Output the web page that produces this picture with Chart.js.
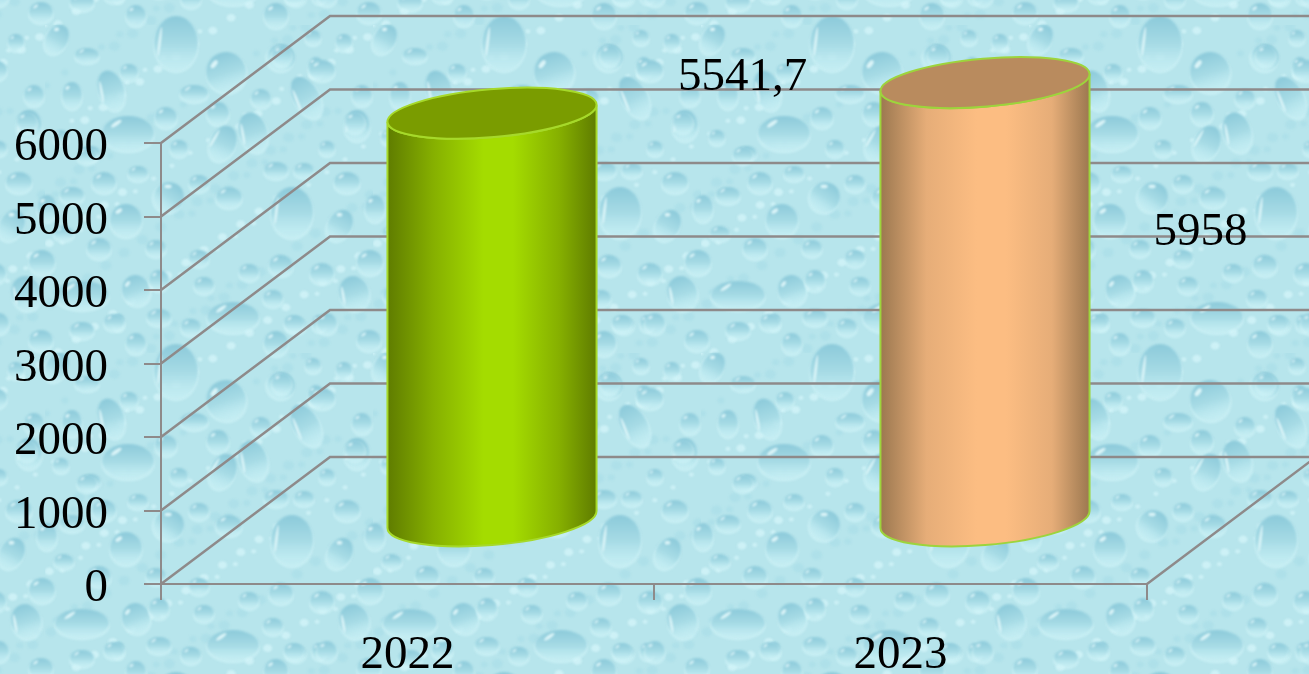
<!DOCTYPE html>
<html>
<head>
<meta charset="utf-8">
<style>
html, body { margin: 0; padding: 0; overflow: hidden; background: #bce9f0; }
canvas { display: block; }
</style>
<script src="https://cdn.jsdelivr.net/npm/chart.js@4"></script>
</head>
<body>
<canvas id="barChart" width="1309" height="674"></canvas>
<script>
const categories = ['2022', '2023'];
const values = [5541.7, 5958];
const valueLabels = ['5541,7', '5958'];
const yTicks = [0, 1000, 2000, 3000, 4000, 5000, 6000];

const FONT = '"Liberation Serif", serif';
const GRID = '#8e8a8a';
const DEPTH_X = 169, DEPTH_Y = 127;

// cylinder look
const barColors = ['#a4dc00', '#fcbd82'];
const midColors = ['#86b000', '#e6ad78'];
const edgeColors = ['#5f7c00', '#9c7850'];
const topColors = ['#7a9c00', '#b98b5e'];
const rimColors = ['#a6d92a', '#9dd43c'];
// where the two data labels sit relative to the top of the front bar
const labelShift = [[335, -99], [300, 87]];

// water drop tile, [x, y, rx, ry, tilt]
const drops = [
  [131,18,22,27,0],[181,47,20,20,-.3],[236,32,14,13,.5],[261,72,13,22,-.5],[84,47,9,8,0],[121,92,11,10,0],
  [149,68,14,8,0],[173,88,11,11,0],[216,73,10,9,0],[83,108,26,17,0],[208,107,14,20,-.3],[178,118,13,18,.4],
  [134,123,9,8,0],[93,148,10,7,0],[231,145,12,8,0],[259,145,10,7,0],[154,158,10,8,0],[124,172,15,15,.6],
  [184,172,13,10,0],[81,195,16,16,0],[247,187,21,25,0],[111,223,10,8,0],[154,233,10,8,0],[236,240,12,10,0],
  [204,247,10,8,0],[91,265,14,15,-.3],[114,255,10,10,0],[159,260,10,8,0],[228,273,10,8,0],[188,292,26,15,0],
  [114,292,12,8,0],[146,302,10,8,0],[251,300,10,8,0],[231,318,12,12,0],[91,318,10,10,0],[74,297,6,8,0],
  [274,298,7,8,0],[271,42,8,10,0],[268,12,8,7,0],[312,100,13,15,0],[282,123,8,7,0],[46,128,10,7,0],
  [302,157,13,10,0],[27,170,12,8,0],[59,157,12,10,0],[2,183,10,13,0],[295,200,12,16,.5],[19,208,10,7,0],
  [54,223,12,10,0],[325,237,13,12,0],[277,248,12,10,0],[309,268,15,17,-.3],[37,270,27,14,0],[249,298,10,8,0],
  [282,298,10,10,0],[324,315,12,10,0],[37,305,12,8,0],[69,297,10,8,0],[12,14,11,15,.5],[299,17,8,8,0],
  [42,30,12,7,0],[237,30,10,10,0],[277,45,13,10,0],[317,70,10,10,0],[27,70,10,13,0],[66,65,13,20,-.3],
  [310,97,10,10,0],[42,130,10,8,0],[16,112,8,7,0]
];

function drawDrop(g, d) {
  const [x, y, rx, ry, tilt] = d;
  g.save();
  g.translate(x, y);
  g.rotate(tilt);
  // faint pale rim under the drop
  g.fillStyle = 'rgba(212,245,249,0.55)';
  g.beginPath();
  g.ellipse(0, 2.5, rx + 1, ry + 1, 0, 0, Math.PI * 2);
  g.fill();
  const grad = g.createLinearGradient(0, -ry, 0, ry);
  grad.addColorStop(0, '#8ccada');
  grad.addColorStop(.55, '#a8dce6');
  grad.addColorStop(1, 'rgba(190,235,242,0.3)');
  g.fillStyle = grad;
  g.beginPath();
  g.ellipse(0, 0, rx, ry, 0, 0, Math.PI * 2);
  g.fill();
  // highlight
  g.fillStyle = 'rgba(235,252,254,0.8)';
  g.beginPath();
  if (ry > rx * 1.1 && rx > 12) {
    g.ellipse(-rx * .74, -ry * .05, 1.3, ry * .55, .12, 0, Math.PI * 2);
  } else {
    g.ellipse(-rx * .45, -ry * .55, Math.max(1.3, rx * .24), Math.max(.9, ry * .12), -.6, 0, Math.PI * 2);
  }
  g.fill();
  g.restore();
}

function makeTile() {
  const size = 328;
  const tile = document.createElement('canvas');
  tile.width = size;
  tile.height = size;
  const g = tile.getContext('2d');
  g.fillStyle = '#b7e5ec';
  g.fillRect(0, 0, size, size);
  g.filter = 'blur(0.9px)';
  // small droplets in between, golden ratio steps so they spread evenly
  for (let i = 0; i < 170; i++) {
    const x = (i * 0.618034 % 1) * size;
    const y = (i * 0.754878 % 1) * size;
    const r = 2.5 + (i % 4);
    g.fillStyle = i % 2 ? '#aee0e9' : '#cdf1f6';
    g.beginPath();
    g.ellipse(x, y, r, r * .85, 0, 0, Math.PI * 2);
    g.fill();
  }
  for (const d of drops) {
    for (const ox of [-size, 0, size]) {
      for (const oy of [-size, 0, size]) {
        drawDrop(g, [d[0] + ox, d[1] + oy, d[2], d[3], d[4]]);
      }
    }
  }
  return tile;
}

const background = {
  id: 'background',
  beforeDraw(chart) {
    const ctx = chart.ctx;
    const pattern = ctx.createPattern(makeTile(), 'repeat');
    pattern.setTransform(new DOMMatrix().translate(45, 25));
    ctx.save();
    ctx.fillStyle = pattern;
    ctx.fillRect(0, 0, chart.width, chart.height);
    ctx.restore();
  }
};

// side wall, back wall and floor lines of the 3D box
const box = {
  id: 'box',
  beforeDatasetsDraw(chart) {
    const { ctx, scales: { y }, chartArea: { left, right, bottom } } = chart;
    ctx.save();
    ctx.strokeStyle = GRID;
    ctx.lineWidth = 2.5;
    ctx.beginPath();
    for (const t of yTicks) {
      const py = y.getPixelForValue(t);
      ctx.moveTo(left, py);
      ctx.lineTo(left + DEPTH_X, py - DEPTH_Y);
      ctx.lineTo(chart.width, py - DEPTH_Y);
    }
    ctx.moveTo(right, bottom);
    ctx.lineTo(right + DEPTH_X, bottom - DEPTH_Y);
    ctx.stroke();
    ctx.restore();
  }
};

const cylinders = {
  id: 'cylinders',
  beforeDatasetDraw(chart, args) {
    const ctx = chart.ctx;
    const tilt = -4.9 * Math.PI / 180;
    args.meta.data.forEach((bar, i) => {
      const half = bar.width / 2;
      const a = half + .4, b = 24;
      const cx = bar.x + DEPTH_X / 2, top = bar.y - DEPTH_Y / 2, base = bar.base - DEPTH_Y / 2;
      // angle on the ellipse of its outermost right point
      const t0 = Math.atan(-(b / a) * Math.tan(tilt));

      const side = ctx.createLinearGradient(cx - half, 0, cx + half, 0);
      side.addColorStop(0, edgeColors[i]);
      side.addColorStop(.22, midColors[i]);
      side.addColorStop(.46, bar.options.backgroundColor);
      side.addColorStop(.6, bar.options.backgroundColor);
      side.addColorStop(.82, midColors[i]);
      side.addColorStop(1, edgeColors[i]);

      ctx.save();
      ctx.beginPath();
      ctx.ellipse(cx, base, a, b + 1.5, tilt, t0, t0 + Math.PI, false);
      ctx.ellipse(cx, top, a, b, tilt, t0 + Math.PI, t0, true);
      ctx.closePath();
      ctx.fillStyle = side;
      ctx.fill();
      ctx.strokeStyle = rimColors[i];
      ctx.lineWidth = 2;
      ctx.stroke();

      ctx.beginPath();
      ctx.ellipse(cx, top, a, b, tilt, 0, Math.PI * 2);
      ctx.fillStyle = topColors[i];
      ctx.fill();
      ctx.stroke();
      ctx.restore();
    });
    return false;
  },
  afterDatasetsDraw(chart) {
    const ctx = chart.ctx;
    ctx.save();
    ctx.font = '47px ' + FONT;
    ctx.fillStyle = '#000';
    ctx.textAlign = 'center';
    ctx.textBaseline = 'middle';
    chart.getDatasetMeta(0).data.forEach((bar, i) => {
      ctx.fillText(valueLabels[i], bar.x + labelShift[i][0], bar.y + labelShift[i][1]);
    });
    ctx.restore();
  }
};

new Chart(document.getElementById('barChart'), {
  type: 'bar',
  data: {
    labels: categories,
    datasets: [{
      data: values,
      backgroundColor: barColors,
      barThickness: 209,
      clip: false
    }]
  },
  options: {
    responsive: false,
    animation: false,
    layout: { padding: { top: 143, right: 162, left: 0, bottom: 0 } },
    plugins: {
      legend: { display: false },
      tooltip: { enabled: false }
    },
    scales: {
      x: {
        afterFit(scale) { scale.height = 90; },
        grid: { color: GRID, lineWidth: 2, drawOnChartArea: false, tickLength: 16 },
        border: { color: GRID, width: 2 },
        ticks: { color: '#000', font: { family: FONT, size: 47 }, padding: 27, maxRotation: 0 }
      },
      y: {
        min: 0,
        max: 6000,
        afterFit(scale) { scale.width = 161; },
        afterBuildTicks(scale) { scale.ticks = yTicks.map(v => ({ value: v })); },
        grid: { color: GRID, lineWidth: 2, drawOnChartArea: false, tickLength: 17 },
        border: { color: GRID, width: 2 },
        ticks: {
          color: '#000',
          font: { family: FONT, size: 47 },
          padding: 36,
          labelOffset: 5,
          callback: v => String(v)
        }
      }
    }
  },
  plugins: [background, box, cylinders]
});
</script>
</body>
</html>
